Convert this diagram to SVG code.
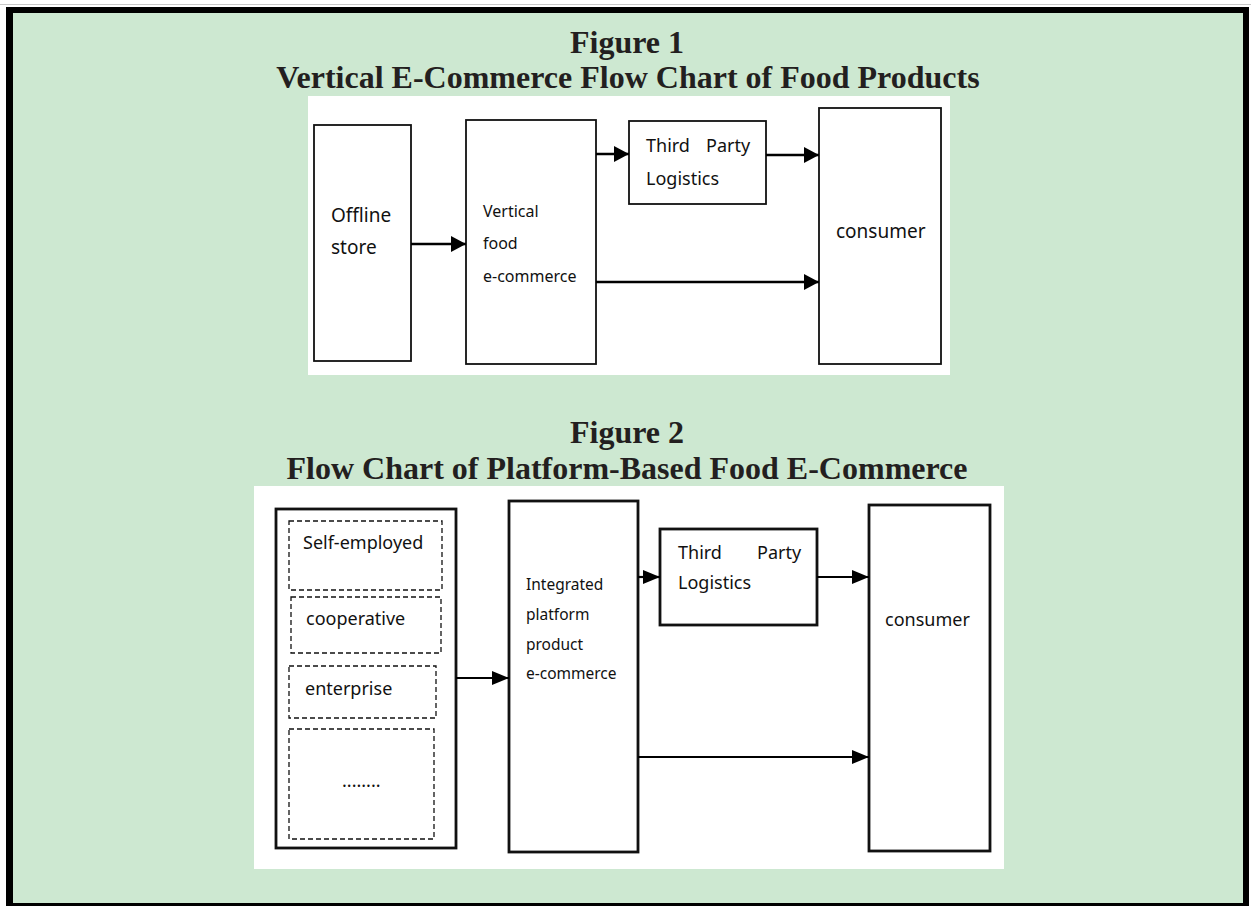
<svg xmlns="http://www.w3.org/2000/svg" width="1251" height="906" viewBox="0 0 1251 906">
  <style>
    .title { font-family: "Liberation Serif", "Times New Roman", serif; font-weight: bold; font-size: 32px; fill: #231f20; text-anchor: middle; }
    .lbl { font-family: "Noto Sans", "Open Sans", sans-serif; fill: #111; }
    .box1 { fill: #fff; stroke: #111; stroke-width: 1.8; }
    .box2 { fill: #fff; stroke: #111; stroke-width: 2.8; }
    .dash { fill: none; stroke: #111; stroke-width: 1.3; stroke-dasharray: 5 3; }
    .conn1 { fill: none; stroke: #000; stroke-width: 2.6; marker-end: url(#head1); }
    .conn2 { fill: none; stroke: #000; stroke-width: 2.2; marker-end: url(#head2); }
  </style>
  <defs>
    <marker id="head1" markerUnits="userSpaceOnUse" markerWidth="17" markerHeight="17" refX="15" refY="8" orient="auto">
      <path d="M0,0 L15,8 L0,16 z" fill="#000"/>
    </marker>
    <marker id="head2" markerUnits="userSpaceOnUse" markerWidth="19" markerHeight="15" refX="17" refY="7" orient="auto">
      <path d="M0,0 L17,7 L0,14 z" fill="#000"/>
    </marker>
  </defs>

  <!-- page frame -->
  <line x1="0" y1="4.5" x2="1251" y2="4.5" stroke="#c8c8c8" stroke-width="1"/>
  <rect x="6" y="7" width="1243" height="899" fill="#000"/>
  <rect x="13" y="13" width="1230" height="890" fill="#cde8d1"/>

  <!-- Figure 1 -->
  <text class="title" x="627" y="53">Figure 1</text>
  <text class="title" x="628" y="88">Vertical E-Commerce Flow Chart of Food Products</text>
  <rect x="308" y="96" width="642" height="279" fill="#fff"/>

  <g id="f1-offline-store">
    <rect class="box1" x="314" y="125" width="97" height="236"/>
    <text class="lbl" font-size="19" x="331" y="222">Offline</text>
    <text class="lbl" font-size="19" x="331" y="254">store</text>
  </g>
  <g id="f1-vertical-food">
    <rect class="box1" x="466" y="120" width="130" height="244"/>
    <text class="lbl" font-size="16" x="483" y="217">Vertical</text>
    <text class="lbl" font-size="16" x="483" y="249">food</text>
    <text class="lbl" font-size="16" x="483" y="282">e-commerce</text>
  </g>
  <g id="f1-logistics">
    <rect class="box1" x="629" y="121" width="137" height="83"/>
    <text class="lbl" font-size="18" y="152"><tspan x="646">Third</tspan><tspan x="706">Party</tspan></text>
    <text class="lbl" font-size="18" x="646" y="185">Logistics</text>
  </g>
  <g id="f1-consumer">
    <rect class="box1" x="819" y="108" width="122" height="256"/>
    <text class="lbl" font-size="19" x="836" y="238">consumer</text>
  </g>

  <!-- Figure 2 -->
  <text class="title" x="627" y="443">Figure 2</text>
  <text class="title" x="627" y="479">Flow Chart of Platform-Based Food E-Commerce</text>
  <rect x="254" y="486" width="750" height="383" fill="#fff"/>

  <g id="f2-sellers">
    <rect class="box2" x="276" y="509" width="180" height="339"/>
    <rect class="dash" x="289" y="521" width="153" height="69"/>
    <rect class="dash" x="291" y="597" width="150" height="56"/>
    <rect class="dash" x="289" y="666" width="147" height="52"/>
    <rect class="dash" x="289" y="729" width="145" height="110"/>
    <text class="lbl" font-size="18" x="303" y="549">Self-employed</text>
    <text class="lbl" font-size="18" x="306" y="625">cooperative</text>
    <text class="lbl" font-size="18" x="305" y="695">enterprise</text>
    <text class="lbl" font-size="18" x="342" y="787">........</text>
  </g>
  <g id="f2-platform">
    <rect class="box2" x="509" y="501" width="129" height="351"/>
    <text class="lbl" font-size="15.5" x="526" y="590">Integrated</text>
    <text class="lbl" font-size="15.5" x="526" y="620">platform</text>
    <text class="lbl" font-size="15.5" x="526" y="650">product</text>
    <text class="lbl" font-size="15.5" x="526" y="679">e-commerce</text>
  </g>
  <g id="f2-logistics">
    <rect class="box2" x="660" y="529" width="157" height="96"/>
    <text class="lbl" font-size="18" y="559"><tspan x="678">Third</tspan><tspan x="757">Party</tspan></text>
    <text class="lbl" font-size="18" x="678" y="589">Logistics</text>
  </g>
  <g id="f2-consumer">
    <rect class="box2" x="869" y="505" width="121" height="346"/>
    <text class="lbl" font-size="18" x="885" y="626">consumer</text>
  </g>

  <!-- connectors -->
  <g id="connectors">
    <line class="conn1" x1="411" y1="244" x2="466" y2="244"/>
    <line class="conn1" x1="596" y1="154" x2="629" y2="154"/>
    <line class="conn1" x1="766" y1="155" x2="819" y2="155"/>
    <line class="conn1" x1="596" y1="282" x2="819" y2="282"/>
    <line class="conn2" x1="456" y1="678" x2="509" y2="678"/>
    <line class="conn2" x1="638" y1="577" x2="660" y2="577"/>
    <line class="conn2" x1="817" y1="577" x2="869" y2="577"/>
    <line class="conn2" x1="638" y1="757" x2="869" y2="757"/>
  </g>
</svg>
